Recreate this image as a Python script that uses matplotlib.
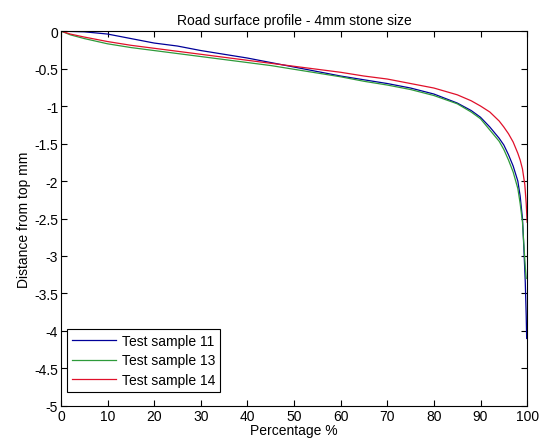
import matplotlib.pyplot as plt
import numpy as np

plt.rcParams['font.family'] = ['Liberation Sans', 'DejaVu Sans']

# percentage values sampled along each profile
pct = [0, 2, 5, 10, 15, 20, 25, 30, 35, 40, 45, 50, 55, 60, 65, 70, 75, 80,
       85, 88, 90, 92, 94, 95, 96, 97, 98, 98.5, 99, 99.3, 99.6, 99.8, 99.9]

# Test sample 11
s11 = [0, -0.005, -0.01, -0.04, -0.1, -0.16, -0.2, -0.26, -0.31, -0.36, -0.42,
       -0.48, -0.54, -0.6, -0.65, -0.7, -0.76, -0.84, -0.96, -1.06, -1.15,
       -1.28, -1.43, -1.52, -1.65, -1.8, -2.0, -2.2, -2.5, -2.9, -3.35, -3.8, -4.1]

# Test sample 13
pct13 = pct[:-1]
s13 = [0, -0.05, -0.1, -0.17, -0.22, -0.26, -0.3, -0.34, -0.38, -0.42, -0.46,
       -0.51, -0.56, -0.61, -0.67, -0.72, -0.78, -0.86, -0.97, -1.08, -1.17,
       -1.32, -1.47, -1.58, -1.72, -1.88, -2.1, -2.3, -2.55, -2.85, -3.15, -3.3]

# Test sample 14
pct14 = [0, 2, 5, 10, 15, 20, 25, 30, 35, 40, 45, 50, 55, 60, 65, 70, 75, 80,
         85, 88, 90, 92, 94, 95, 96, 97, 98, 98.5, 99, 99.5, 99.8, 100]
s14 = [0, -0.04, -0.08, -0.14, -0.19, -0.23, -0.27, -0.31, -0.35, -0.39, -0.43,
       -0.47, -0.51, -0.55, -0.6, -0.64, -0.7, -0.76, -0.85, -0.93, -1.0,
       -1.08, -1.2, -1.28, -1.37, -1.48, -1.63, -1.72, -1.84, -2.05, -2.3, -2.55]

fig = plt.figure(figsize=(5.39, 4.39), dpi=100)
ax = fig.add_axes([0.113, 0.073, 0.865, 0.854])

ax.plot(pct, s11, color='#000099', lw=0.9, label='Test sample 11')
ax.plot(pct13, s13, color='#2e9a3a', lw=0.9, label='Test sample 13')
ax.plot(pct14, s14, color='#e0102a', lw=0.9, label='Test sample 14')

ax.set_xlim(0, 100)
ax.set_ylim(-5, 0)
ax.set_xticks(np.arange(0, 101, 10))
ax.set_yticks(np.arange(-5, 0.01, 0.5))
ax.set_yticklabels(['-5', '-4.5', '-4', '-3.5', '-3', '-2.5', '-2', '-1.5',
                    '-1', '-0.5', '0'])
ax.tick_params(direction='in', top=True, right=True, labelsize=10, length=4,
               pad=2)
for sp in ax.spines.values():
    sp.set_linewidth(0.8)

ax.set_title('Road surface profile - 4mm stone size', fontsize=10, pad=5)
ax.set_xlabel('Percentage %', fontsize=10, labelpad=0)
ax.set_ylabel('Distance from top mm', fontsize=10, labelpad=2)

leg = ax.legend(loc='lower left', fontsize=10, fancybox=False, framealpha=1,
                edgecolor='black', borderpad=0.35, borderaxespad=0,
                handlelength=3.2, handletextpad=0.4, labelspacing=0.42,
                bbox_to_anchor=(0.013, 0.037))
leg.get_frame().set_linewidth(0.8)

fig.savefig('out.png')
